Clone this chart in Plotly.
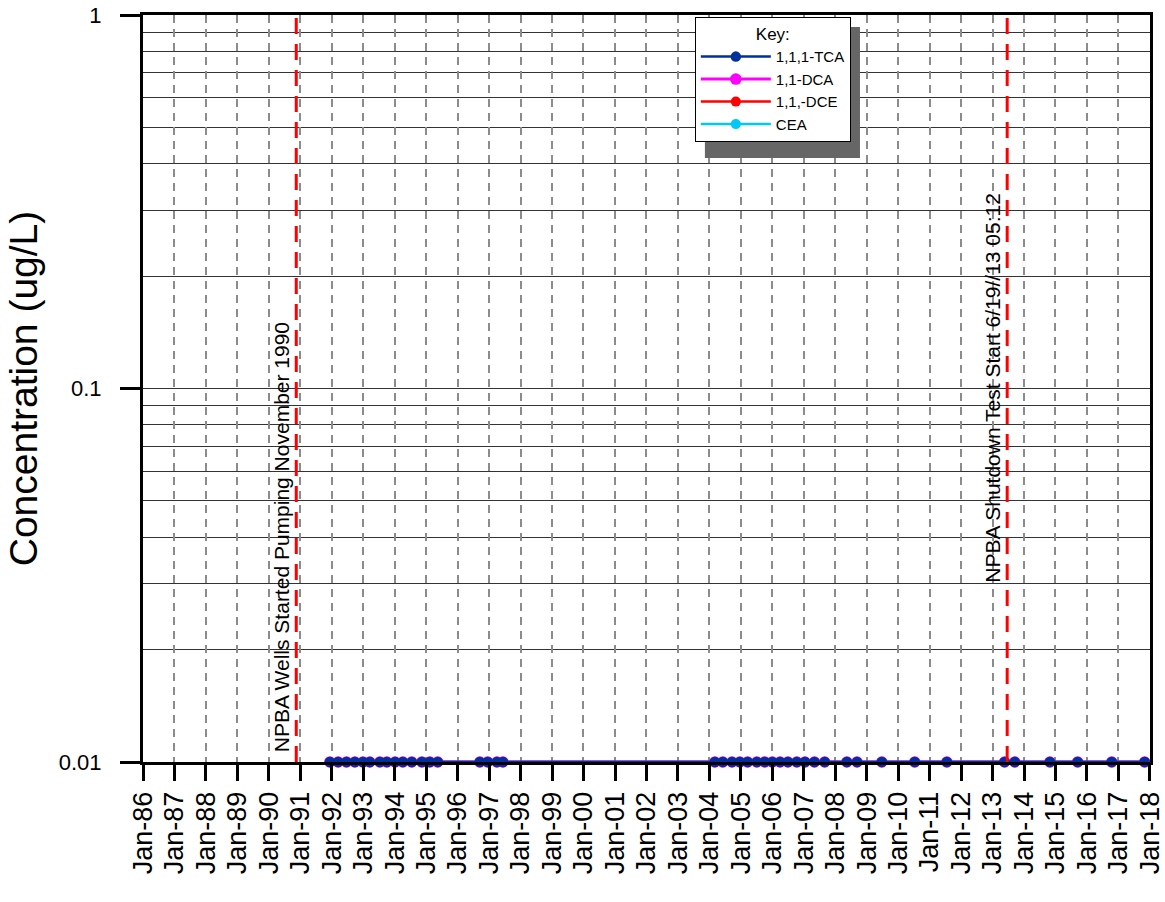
import plotly.graph_objects as go

# sample dates (all results reported at the 0.01 ug/L reporting limit)
dates = [
    "1991-12-10", "1992-03-15", "1992-06-20", "1992-09-25", "1992-12-28",
    "1993-03-18", "1993-07-12", "1993-10-01", "1994-01-05", "1994-04-05",
    "1994-07-18", "1994-11-12", "1995-02-12", "1995-05-15",
    "1996-09-15", "1996-12-15", "1997-04-01", "1997-06-10",
    "2004-03-05", "2004-06-05", "2004-09-20", "2004-12-20", "2005-03-20",
    "2005-07-05", "2005-10-05", "2006-01-01", "2006-04-01", "2006-07-01",
    "2006-10-12", "2007-01-15", "2007-05-05", "2007-09-01",
    "2008-05-15", "2008-09-10",
    "2009-06-25", "2010-07-12", "2011-07-20", "2013-05-20", "2013-09-15",
    "2014-10-28", "2015-09-15", "2016-10-15", "2017-11-01",
]
tca = [0.01, 0.01, 0.01, 0.01, 0.01, 0.01, 0.01, 0.01, 0.01, 0.01, 0.01,
       0.01, 0.01, 0.01, 0.01, 0.01, 0.01, 0.01, 0.01, 0.01, 0.01, 0.01,
       0.01, 0.01, 0.01, 0.01, 0.01, 0.01, 0.01, 0.01, 0.01, 0.01, 0.01,
       0.01, 0.01, 0.01, 0.01, 0.01, 0.01, 0.01, 0.01, 0.01, 0.01]
dca = [0.01, 0.01, 0.01, 0.01, 0.01, 0.01, 0.01, 0.01, 0.01, 0.01, 0.01,
       0.01, 0.01, 0.01, 0.01, 0.01, 0.01, 0.01, 0.01, 0.01, 0.01, 0.01,
       0.01, 0.01, 0.01, 0.01, 0.01, 0.01, 0.01, 0.01, 0.01, 0.01, 0.01,
       0.01, 0.01, 0.01, 0.01, 0.01, 0.01, 0.01, 0.01, 0.01, 0.01]
dce = [0.01, 0.01, 0.01, 0.01, 0.01, 0.01, 0.01, 0.01, 0.01, 0.01, 0.01,
       0.01, 0.01, 0.01, 0.01, 0.01, 0.01, 0.01, 0.01, 0.01, 0.01, 0.01,
       0.01, 0.01, 0.01, 0.01, 0.01, 0.01, 0.01, 0.01, 0.01, 0.01, 0.01,
       0.01, 0.01, 0.01, 0.01, 0.01, 0.01, 0.01, 0.01, 0.01, 0.01]
cea = [0.01, 0.01, 0.01, 0.01, 0.01, 0.01, 0.01, 0.01, 0.01, 0.01, 0.01,
       0.01, 0.01, 0.01, 0.01, 0.01, 0.01, 0.01, 0.01, 0.01, 0.01, 0.01,
       0.01, 0.01, 0.01, 0.01, 0.01, 0.01, 0.01, 0.01, 0.01, 0.01, 0.01,
       0.01, 0.01, 0.01, 0.01, 0.01, 0.01, 0.01, 0.01, 0.01, 0.01]

# x ticks
tick_dates = ["1986-01-01", "1987-01-01", "1988-01-01", "1989-01-01", "1990-01-01",
              "1991-01-01", "1992-01-01", "1993-01-01", "1994-01-01", "1995-01-01",
              "1996-01-01", "1997-01-01", "1998-01-01", "1999-01-01", "2000-01-01",
              "2001-01-01", "2002-01-01", "2003-01-01", "2004-01-01", "2005-01-01",
              "2006-01-01", "2007-01-01", "2008-01-01", "2009-01-01", "2010-01-01",
              "2011-01-01", "2012-01-01", "2013-01-01", "2014-01-01", "2015-01-01",
              "2016-01-01", "2017-01-01", "2018-01-01"]
tick_text = ["Jan-86", "Jan-87", "Jan-88", "Jan-89", "Jan-90", "Jan-91", "Jan-92",
             "Jan-93", "Jan-94", "Jan-95", "Jan-96", "Jan-97", "Jan-98", "Jan-99",
             "Jan-00", "Jan-01", "Jan-02", "Jan-03", "Jan-04", "Jan-05", "Jan-06",
             "Jan-07", "Jan-08", "Jan-09", "Jan-10", "Jan-11", "Jan-12", "Jan-13",
             "Jan-14", "Jan-15", "Jan-16", "Jan-17", "Jan-18"]

y_major = [0.01, 0.1, 1]
y_major_text = ["0.01", "0.1", "1"]
y_minor = [0.02, 0.03, 0.04, 0.05, 0.06, 0.07, 0.08, 0.09,
           0.1, 0.2, 0.3, 0.4, 0.5, 0.6, 0.7, 0.8, 0.9]

# events
event_dates = ["1990-11-15", "2013-06-19 05:12"]
event_labels = ["NPBA Wells Started Pumping November 1990",
                "NPBA Shutdown Test Start 6/19//13 05:12"]
event_label_pos = [0.01, 0.237]

FONT = "Liberation Sans, Arial, sans-serif"

fig = go.Figure()
# draw back to front so 1,1,1-TCA is on top
series = [
    ("CEA", cea, "#00C8F8", 2.5, 10),
    ("1,1,-DCE", dce, "#FF0000", 2.5, 10),
    ("1,1-DCA", dca, "#FF00FF", 3, 11.5),
    ("1,1,1-TCA", tca, "#00309C", 2.5, 10.5),
]
for name, vals, color, lw, ms in series:
    fig.add_trace(go.Scatter(x=dates, y=vals, name=name, mode='lines+markers',
                             line=dict(color=color, width=lw),
                             marker=dict(color=color, size=ms),
                             cliponaxis=False))

for d, lab, yp in zip(event_dates, event_labels, event_label_pos):
    fig.add_shape(type='line', xref='x', yref='paper', x0=d, x1=d, y0=0, y1=1,
                  line=dict(color='#FF0000', width=3, dash='16px,10px'))
    fig.add_annotation(x=d, y=yp, xref='x', yref='paper', text=lab,
                       textangle=-90, showarrow=False, xanchor='right',
                       yanchor='bottom', xshift=-1,
                       font=dict(family=FONT, size=21, color='black'))

# legend drop shadow
fig.add_shape(type='rect', xref='paper', yref='paper', x0=0.558, x1=0.712,
              y0=0.8086, y1=0.984, fillcolor='#666666', line=dict(width=0),
              layer='above')

fig.update_layout(
    width=1165, height=902,
    margin=dict(l=143, r=15, t=15, b=140, autoexpand=False),
    paper_bgcolor='white', plot_bgcolor='white',
    font=dict(family=FONT, color='black'),
    showlegend=True,
    legend=dict(x=0.548, y=0.997, xanchor='left', yanchor='top',
                bgcolor='white', bordercolor='black', borderwidth=1,
                traceorder='reversed', itemwidth=70,
                font=dict(family=FONT, size=15),
                title=dict(text='Key:', side='top center',
                           font=dict(family=FONT, size=17))),
    xaxis=dict(type='date', range=["1986-01-01", "2018-01-02"],
               tickmode='array', tickvals=tick_dates, ticktext=tick_text,
               tickangle=-90, tickfont=dict(family=FONT, size=27),
               ticks='outside', ticklen=16, tickwidth=3, tickcolor='black',
               showgrid=True, gridcolor='#8c8c8c', gridwidth=1.5,
               griddash='8px,6px', automargin=False,
               showline=True, linecolor='black', linewidth=3, mirror=True,
               zeroline=False),
    yaxis=dict(type='log', range=[-2, 0],
               tickmode='array', tickvals=y_major, ticktext=y_major_text,
               tickfont=dict(family=FONT, size=22), ticklabelstandoff=14,
               ticks='outside', ticklen=20, tickwidth=3, tickcolor='black',
               showgrid=False, automargin=False,
               minor=dict(tickmode='array', tickvals=y_minor, ticks='',
                          showgrid=True, gridcolor='#333333', gridwidth=1),
               showline=True, linecolor='black', linewidth=3, mirror=True,
               zeroline=False,
               title=dict(text='Concentration (ug/L)', standoff=10,
                          font=dict(family=FONT, size=39))),
)

# drop the default 8px page margin so the figure sits at the top-left corner
fig.write_html("out.html", config={'displayModeBar': False},
               post_script="document.body.style.margin='0';")
